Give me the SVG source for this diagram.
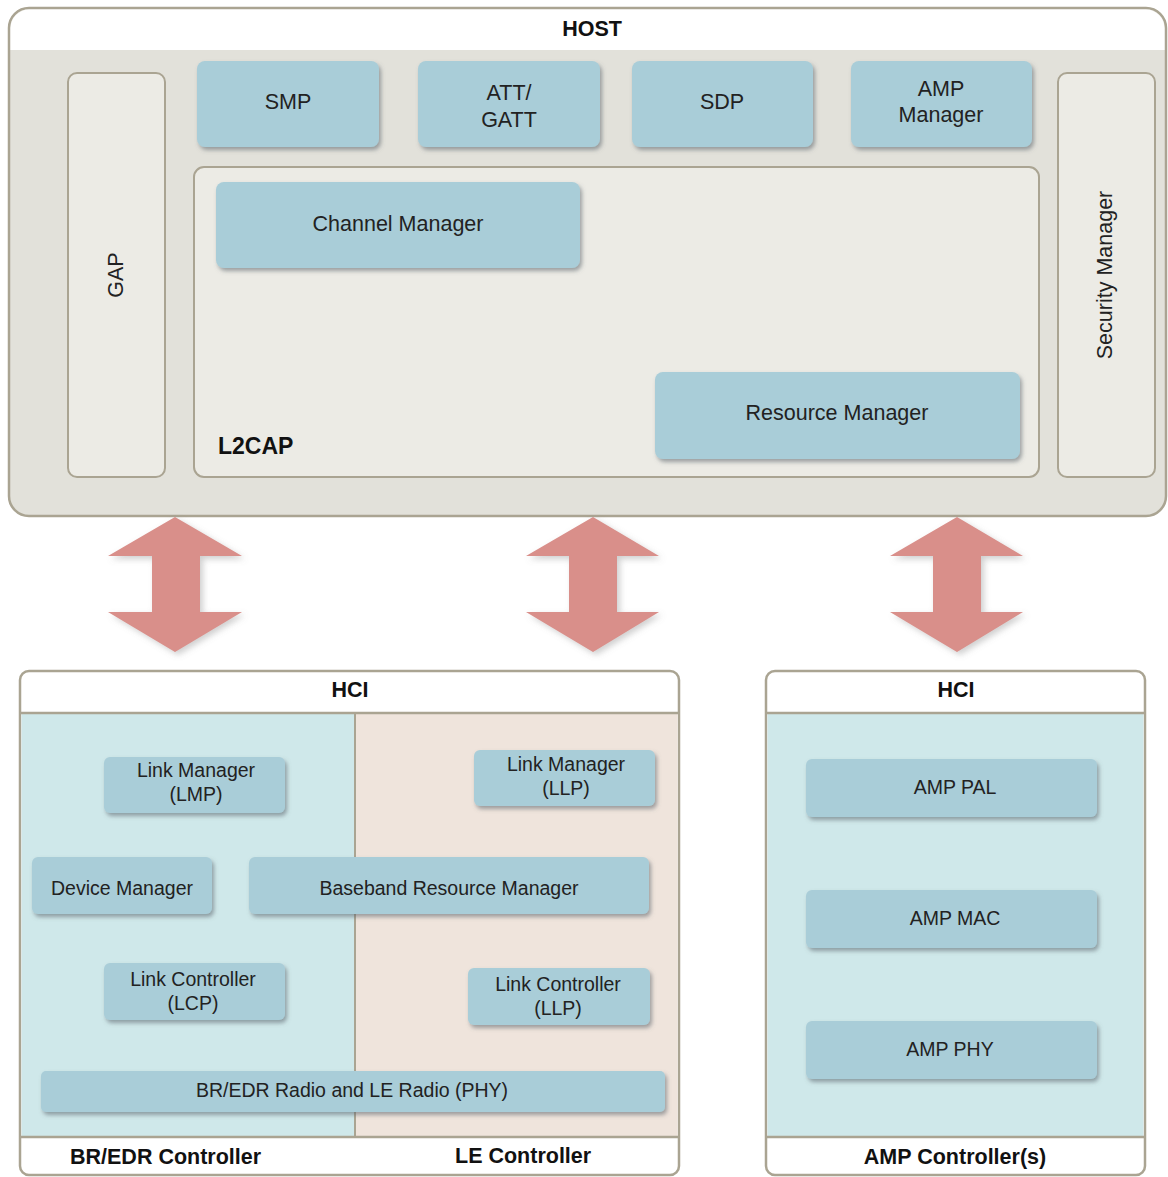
<svg xmlns="http://www.w3.org/2000/svg" width="1168" height="1177" viewBox="0 0 1168 1177">
<defs>
<filter id="sh" x="-10%" y="-20%" width="125%" height="150%">
<feDropShadow dx="2" dy="3" stdDeviation="2" flood-color="#556066" flood-opacity="0.55"/>
</filter>
<filter id="ash" x="-20%" y="-10%" width="150%" height="130%">
<feDropShadow dx="3" dy="3" stdDeviation="3" flood-color="#777" flood-opacity="0.35"/>
</filter>
<style>
text{font-family:"Liberation Sans",Arial,sans-serif;fill:#222;}
.t{font-size:21.5px;text-anchor:middle;}
.s{font-size:19.5px;text-anchor:middle;}
.b{font-size:21.5px;font-weight:bold;fill:#111;}
.bc{font-size:21.5px;font-weight:bold;text-anchor:middle;fill:#111;}
.node{fill:#a9cdd8;filter:url(#sh);}
.side{fill:#ecebe5;stroke:#aaa492;stroke-width:2;}
.frame{stroke:#aaa492;stroke-width:2.5;}
.arrow{fill:#d98f8a;filter:url(#ash);}
</style>
</defs>
<rect width="1168" height="1177" fill="#ffffff"/>

<g id="host">
<rect x="9" y="8" width="1157" height="508" rx="20" fill="#e2e1da" class="frame"/>
<path d="M10.5 50 V28 A18.5 18.5 0 0 1 29 9.5 H1146 A18.5 18.5 0 0 1 1164.5 28 V50 Z" fill="#ffffff"/>
<text class="bc" x="592" y="36">HOST</text>
</g>

<g id="gap">
<rect class="side" x="68" y="73" width="97" height="404" rx="9"/>
<text class="t" transform="translate(123 275) rotate(-90)">GAP</text>
</g>
<g id="security-manager">
<rect class="side" x="1058" y="73" width="97" height="404" rx="9"/>
<text class="t" transform="translate(1112 275) rotate(-90)">Security Manager</text>
</g>

<g id="smp"><rect class="node" x="197" y="61" width="182" height="86" rx="8"/><text class="t" x="288" y="109">SMP</text></g>
<g id="att-gatt"><rect class="node" x="418" y="61" width="182" height="86" rx="8"/><text class="t" x="509" y="100">ATT/</text><text class="t" x="509" y="127">GATT</text></g>
<g id="sdp"><rect class="node" x="632" y="61" width="181" height="86" rx="8"/><text class="t" x="722" y="109">SDP</text></g>
<g id="amp-manager"><rect class="node" x="851" y="61" width="181" height="86" rx="8"/><text class="t" x="941" y="96">AMP</text><text class="t" x="941" y="122">Manager</text></g>

<g id="l2cap">
<rect class="side" x="194" y="167" width="845" height="310" rx="10"/>
<text class="b" x="218" y="454" style="font-size:23px">L2CAP</text>
</g>
<g id="channel-manager"><rect class="node" x="216" y="182" width="364" height="86" rx="8"/><text class="t" x="398" y="231">Channel Manager</text></g>
<g id="resource-manager"><rect class="node" x="655" y="372" width="365" height="87" rx="8"/><text class="t" x="837" y="420">Resource Manager</text></g>

<g id="connectors">
<path class="arrow" d="M175 517 L242 556 L200 556 L200 612 L242 612 L175 652 L108 612 L152 612 L152 556 L108 556 Z"/>
<path class="arrow" d="M593 517 L659 556 L617 556 L617 612 L659 612 L593 652 L526 612 L569 612 L569 556 L526 556 Z"/>
<path class="arrow" d="M957 517 L1023 556 L981 556 L981 612 L1023 612 L957 652 L890 612 L933 612 L933 556 L890 556 Z"/>
</g>

<g id="br-edr-le-controller">
<rect x="20" y="671" width="659" height="504" rx="9" fill="#ffffff" class="frame"/>
<rect x="21.5" y="713" width="334" height="424" fill="#cfe8ea"/>
<rect x="355.5" y="713" width="322" height="424" fill="#efe4dc"/>
<line x1="21" y1="713" x2="678" y2="713" stroke="#aaa492" stroke-width="2.5"/>
<line x1="21" y1="1137" x2="678" y2="1137" stroke="#aaa492" stroke-width="2.5"/>
<line x1="355" y1="713" x2="355" y2="1137" stroke="#aaa492" stroke-width="2"/>
<text class="bc" x="350" y="697">HCI</text>
<text class="b" x="70" y="1164">BR/EDR Controller</text>
<text class="b" x="455" y="1163">LE Controller</text>
</g>

<g id="link-manager-lmp"><rect class="node" x="104" y="757" width="181" height="56" rx="6"/><text class="s" x="196" y="777">Link Manager</text><text class="s" x="196" y="801">(LMP)</text></g>
<g id="link-manager-llp"><rect class="node" x="474" y="750" width="181" height="56" rx="6"/><text class="s" x="566" y="771">Link Manager</text><text class="s" x="566" y="795">(LLP)</text></g>
<g id="device-manager"><rect class="node" x="32" y="857" width="180" height="57" rx="6"/><text class="s" x="122" y="895">Device Manager</text></g>
<g id="baseband-resource-manager"><rect class="node" x="249" y="857" width="400" height="57" rx="6"/><text class="s" x="449" y="895">Baseband Resource Manager</text></g>
<g id="link-controller-lcp"><rect class="node" x="104" y="963" width="181" height="57" rx="6"/><text class="s" x="193" y="986">Link Controller</text><text class="s" x="193" y="1010">(LCP)</text></g>
<g id="link-controller-llp"><rect class="node" x="468" y="968" width="182" height="57" rx="6"/><text class="s" x="558" y="991">Link Controller</text><text class="s" x="558" y="1015">(LLP)</text></g>
<g id="radio-phy"><rect class="node" x="41" y="1071" width="624" height="41" rx="5"/><text class="s" x="352" y="1097">BR/EDR Radio and LE Radio (PHY)</text></g>

<g id="amp-controller">
<rect x="766" y="671" width="379" height="504" rx="9" fill="#ffffff" class="frame"/>
<rect x="767.5" y="713" width="376" height="424" fill="#cfe8ea"/>
<line x1="767" y1="713" x2="1144" y2="713" stroke="#aaa492" stroke-width="2.5"/>
<line x1="767" y1="1137" x2="1144" y2="1137" stroke="#aaa492" stroke-width="2.5"/>
<text class="bc" x="956" y="697">HCI</text>
<text class="bc" x="955" y="1164">AMP Controller(s)</text>
</g>
<g id="amp-pal"><rect class="node" x="806" y="759" width="291" height="58" rx="6"/><text class="s" x="955" y="794">AMP PAL</text></g>
<g id="amp-mac"><rect class="node" x="806" y="890" width="291" height="58" rx="6"/><text class="s" x="955" y="925">AMP MAC</text></g>
<g id="amp-phy"><rect class="node" x="806" y="1021" width="291" height="58" rx="6"/><text class="s" x="950" y="1056">AMP PHY</text></g>
</svg>
